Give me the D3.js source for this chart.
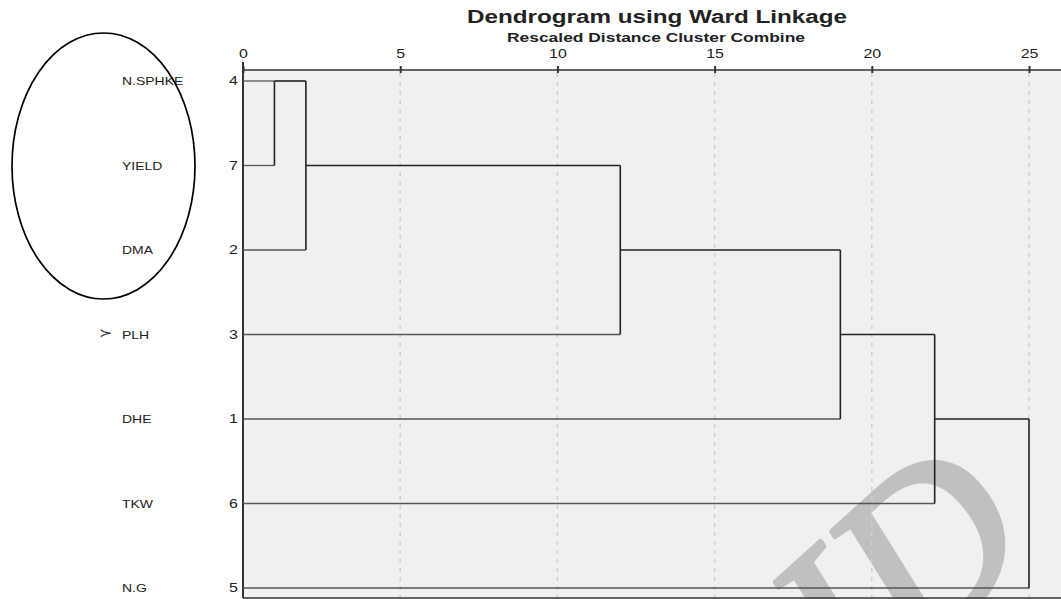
<!DOCTYPE html>
<html>
<head>
<meta charset="utf-8">
<script src="https://cdn.jsdelivr.net/npm/d3@7"></script>
<style>
  body { margin: 0; background: #fff; }
  text { font-family: "Liberation Sans", Arial, sans-serif; fill: #222; }
</style>
</head>
<body>
<svg id="chart" width="1061" height="599"></svg>
<script>
// # DATA
// # ------------------------------
var leaf_names = ["N.SPHKE", "YIELD", "DMA", "PLH", "DHE", "TKW", "N.G"];
var leaf_ids   = [4, 7, 2, 3, 1, 6, 5];

// each merge joins two nodes: "L<i>" = leaf row i, "M<j>" = result of merge j
var merge_left  = ["L0", "M0", "M1", "M2", "M3", "M4"];
var merge_right = ["L1", "L2", "L3", "L4", "L5", "L6"];
var merge_dist  = [1, 2, 12, 19, 22, 25];

var tick_values = [0, 5, 10, 15, 20, 25];

// # SETUP
// # ------------------------------
var svg = d3.select("#chart");
var stretch = 1.33;   // the picture's text is wide

var x = d3.scaleLinear().domain([0, 25]).range([243, 1029]);
var y = d3.scaleLinear().domain([0, leaf_names.length - 1]).range([81, 588]);

var plot_top = 70, plot_bottom = 598, plot_right = 1061;

// ## wide_text
// # ------------------------------
var wide_text = function(g, tx, ty, label, size, anchor) {
  return g.append("text")
    .attr("transform", "translate(" + tx + "," + ty + ") scale(" + stretch + ",1)")
    .attr("text-anchor", anchor || "start")
    .style("font-size", size + "px")
    .text(label);
};

// # BACKGROUND + WATERMARK
// # ------------------------------
svg.append("rect")
  .attr("x", x(0)).attr("y", plot_top)
  .attr("width", plot_right - x(0)).attr("height", plot_bottom - plot_top)
  .attr("fill", "#f0f0f0");

svg.append("text")
  .attr("transform", "translate(858,712) rotate(-42)")
  .style("font-family", "'Liberation Serif', 'DejaVu Serif', serif")
  .style("font-style", "italic")
  .style("font-size", "232px")
  .style("fill", "#c0c0c0")
  .style("stroke", "#c0c0c0")
  .style("stroke-width", 5)
  .style("stroke-linejoin", "round")
  .text("ID");

// # GRID
// # ------------------------------
svg.append("g").selectAll("line")
  .data(tick_values.slice(1))
  .enter().append("line")
  .attr("x1", function(d) { return x(d); })
  .attr("x2", function(d) { return x(d); })
  .attr("y1", plot_top + 3)
  .attr("y2", plot_bottom)
  .attr("stroke", "#cfcfcf")
  .attr("stroke-width", 1.5)
  .attr("stroke-dasharray", "4,5");

// # AXES
// # ------------------------------
var axis = svg.append("g")
  .attr("transform", "translate(0," + plot_top + ")")
  .call(d3.axisTop(x).tickValues(tick_values).tickSize(4).tickPadding(8).tickFormat(d3.format("d")));

axis.select(".domain").remove();
axis.selectAll(".tick line").attr("y2", 3).attr("y1", -4).attr("stroke", "#333").attr("stroke-width", 2);
axis.selectAll(".tick text")
  .style("font-size", "12px")
  .style("font-family", "'Liberation Sans', Arial, sans-serif")
  .attr("fill", "#333")
  .attr("transform", "scale(" + stretch + ",1)");

svg.append("line")
  .attr("x1", x(0)).attr("x2", plot_right)
  .attr("y1", plot_top).attr("y2", plot_top)
  .attr("stroke", "#333").attr("stroke-width", 1.5);

svg.append("line")
  .attr("x1", x(0)).attr("x2", plot_right)
  .attr("y1", plot_bottom).attr("y2", plot_bottom)
  .attr("stroke", "#333").attr("stroke-width", 1.5);

svg.append("line")
  .attr("x1", x(0)).attr("x2", x(0))
  .attr("y1", 62).attr("y2", plot_bottom)
  .attr("stroke", "#333").attr("stroke-width", 2);

// # DENDROGRAM
// # ------------------------------
var nodes = {};
leaf_names.forEach(function(n, i) { nodes["L" + i] = { row: i, dist: 0, leaf: true }; });

var links = svg.append("g").attr("fill", "none");

for (var j = 0; j < merge_dist.length; j++) {
  var a = nodes[merge_left[j]], b = nodes[merge_right[j]], d = merge_dist[j];
  [a, b].forEach(function(c) {
    links.append("line")
      .attr("x1", x(c.dist)).attr("x2", x(d))
      .attr("y1", y(c.row)).attr("y2", y(c.row))
      .attr("stroke", c.leaf ? "#555" : "#222")
      .attr("stroke-width", c.leaf ? 1.3 : 1.6);
  });
  links.append("line")
    .attr("x1", x(d)).attr("x2", x(d))
    .attr("y1", y(Math.min(a.row, b.row))).attr("y2", y(Math.max(a.row, b.row)))
    .attr("stroke", "#222").attr("stroke-width", 1.6);
  // the joined cluster sits on the row halfway between its two parts
  nodes["M" + j] = { row: Math.floor((a.row + b.row) / 2), dist: d, leaf: false };
}

// # LABELS
// # ------------------------------
var labels = svg.append("g");
leaf_names.forEach(function(n, i) {
  wide_text(labels, 122, y(i) + 4, n, 10.5).attr("fill", "#333");
  wide_text(labels, 238, y(i) + 4, leaf_ids[i], 12, "end").attr("fill", "#333");
});

wide_text(labels, 99, y(3) + 2, "\u227B", 12).attr("fill", "#444");

// # TITLE
// # ------------------------------
svg.append("text")
  .attr("x", 467).attr("y", 23)
  .attr("textLength", 380).attr("lengthAdjust", "spacingAndGlyphs")
  .style("font-size", "18px").style("font-weight", "bold")
  .text("Dendrogram using Ward Linkage");

svg.append("text")
  .attr("x", 507).attr("y", 42)
  .attr("textLength", 298).attr("lengthAdjust", "spacingAndGlyphs")
  .style("font-size", "12.5px").style("font-weight", "bold")
  .text("Rescaled Distance Cluster Combine");

// # ANNOTATION
// # ------------------------------
svg.append("ellipse")
  .attr("cx", 103.5).attr("cy", 166)
  .attr("rx", 91.5).attr("ry", 133)
  .attr("fill", "none").attr("stroke", "#000").attr("stroke-width", 1.7);
</script>
</body>
</html>
